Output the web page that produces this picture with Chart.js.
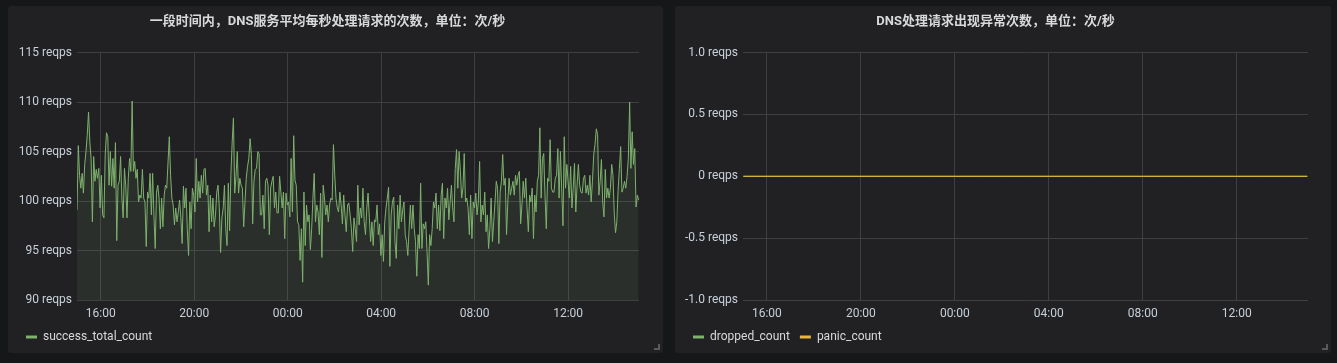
<!DOCTYPE html>
<html>
<head>
<meta charset="utf-8">
<script src="https://cdn.jsdelivr.net/npm/chart.js@4.4.1/dist/chart.umd.min.js"></script>
<style>
body { margin: 0; background: #161719; width: 1337px; height: 363px; overflow: hidden; }
.panel { position: absolute; top: 6px; height: 347px; background: #212124; border-radius: 3px; }
#p1 { left: 8px; width: 655px; }
#p2 { left: 675px; width: 656px; }
canvas { display: block; }
.corner { position: absolute; right: 3px; bottom: 3px; width: 4px; height: 4px;
          border-right: 2px solid #5a5a5e; border-bottom: 2px solid #5a5a5e; }
</style>
</head>
<body>
<div class="panel" id="p1"><canvas id="successChart" width="655" height="347"></canvas><div class="corner"></div></div>
<div class="panel" id="p2"><canvas id="errorChart" width="656" height="347"></canvas><div class="corner"></div></div>
<script>
// Time axis (minutes from 00:00 of the first day)
const rangeStart = 899;   // 14:59
const rangeEnd = 2342;    // 15:02 next day
const tickMinutes = [960, 1200, 1440, 1680, 1920, 2160];
const tickLabels = ['16:00', '20:00', '00:00', '04:00', '08:00', '12:00'];

// success_total_count, reqps, read left to right
const successTotalCount = [
    99.1, 105.6, 102.6, 101.3, 102.8, 100.8, 103.7, 105, 106.7, 109,
    106, 104.3, 97.9, 104.5, 102, 103.2, 102.3, 103.3, 99.3, 102.6,
    98.6, 98.3, 104.7, 106.9, 106.5, 101.6, 105, 101.5, 104.3, 101.3,
    105.9, 96, 101.6, 102, 104.5, 100.3, 98.3, 103.3, 101.6, 98.3,
    102.3, 104.3, 103, 110.1, 103, 104, 102.3, 103.2, 99.9, 100.6,
    100.3, 103.2, 100.3, 99.9, 95.4, 100.9, 100.3, 102.8, 98.6, 102.8,
    98.6, 95.2, 100.9, 101.6, 100.3, 97.2, 100.3, 97.4, 100.6, 101.6,
    101.3, 104, 106.5, 102.6, 100.3, 99.6, 97.6, 99.3, 97.9, 98.9,
    100.1, 98.3, 95.7, 101.5, 99.3, 101.3, 97.2, 94.5, 99.9, 97.2,
    101.3, 100.6, 98.9, 104.3, 99.9, 102, 100.3, 102.6, 100.8, 103.2,
    103.3, 100.6, 101.6, 96.9, 100.6, 97.9, 100.3, 97.4, 98.6, 100.9,
    101.6, 99.3, 94.8, 98.3, 99.3, 101.6, 97.2, 95.5, 101.8, 97,
    102.6, 105.9,
    108.4, 100.8, 102.5, 105, 100.8, 102.3, 101.6, 101.3, 97.4, 99.9,
    102.3, 103.5, 104.3, 106.3, 104.7, 97.7, 102, 103.2, 103.3, 105,
    104.8, 98.6, 98.6, 100.6, 97.2, 102, 102.3, 101.6, 96.6, 101.3,
    102, 102.5, 99.3, 100.9, 98.8, 98.8, 102.5, 100.9, 99.3, 100.9,
    96.2, 100.8, 99.6, 99.9, 98.4, 104.3, 98.9, 106.6, 102.1, 101.6,
    97.9, 97.6, 94, 97.2, 91.8, 100.9, 95.5, 99.6, 97.9, 98.6,
    95.1, 97.2, 100.3, 102.8, 97.9, 99.6, 98.9, 96.6, 100.8, 94.3,
    101.6, 100.3, 98.6, 99.6, 97.9, 99.6, 100.3, 100.1, 105.7, 102.7,
    100.3, 99.3, 98.9, 100.9, 99.6, 97.7, 100.6, 98.6, 96.9, 99.6,
    99.8, 98.6, 97.2, 94.9, 98.3, 97.2, 95.9, 101.6, 97.6, 99.3,
    98.3, 101.3, 97.9, 96.6, 99.3, 100.8, 98.3, 95.9, 97.9, 95.5,
    98.1,
    97.9, 99.6, 96.6, 97.7, 94.5, 96.6, 93.9, 97.9, 99.3, 100.3,
    101.4, 93.4, 98.6, 99.9, 100.4, 95.9, 94.2, 99.6, 97.2, 100.6,
    97.9, 99.1, 99.9, 96.6, 95.9, 94.5, 97.2, 99.6, 97.2, 99.6,
    97.2, 95.9, 92.4, 96.6, 95.2, 101.8, 95.2, 97.7, 97.2, 97.9,
    94.9, 91.5, 96.6, 95.5, 97.2, 99.9, 99.3, 100.8, 97.2, 99.6,
    97, 100.6, 101.8, 96.2, 100.3, 99.3, 101.3, 98.1, 99.9, 101.6,
    99.3, 97.9, 103.3, 105.2, 101.3, 105, 103, 100.3, 101.3, 104.8,
    99.9, 100.3, 99.3, 96.6, 100.6, 96.2, 99.9, 99.3, 100.8, 98.6,
    99.9, 104, 97.9, 99.6, 98.6, 100.9, 96.9, 98.6, 95.2, 97.2,
    100.3, 95.9, 97.9, 99.9, 102, 101.3, 95.7, 100.9, 102, 104.7,
    101.6, 102.3, 96.6, 99.9, 102.3, 100.6, 101.3, 102, 100.6, 102.6,
    101.6, 102.6, 103, 97.7, 99.6,
    102, 100.3, 102.3, 99.3, 96.9, 100.6, 99.9, 101.3, 96.2, 100.6,
    98.9, 102, 102.6, 107.4, 100.3, 104.3, 104.8, 100.6, 97.2, 102.3,
    102, 106.2, 101.3, 100.9, 100.9, 102.3, 102.6, 105.3, 100.3, 105,
    101.3, 97.5, 106.5, 101.3, 103.7, 102, 100.3, 103.5, 99.3, 101.3,
    103.8, 98.9, 101.6, 103.7, 101.6, 100.9, 100.8, 102.3, 102.6, 100.8,
    101.6, 100.6, 102.6, 99.9, 102, 104.7, 105.7, 107.3, 106.7, 100.6,
    102, 104.2, 99.9, 98.4, 103.2, 100.3, 101.3, 100.3, 101.3, 103.7,
    102.6, 98.8, 96.8, 97.9, 101.1, 103.3, 105.5, 100.9, 101.3, 102,
    101.3, 102.5, 104.3, 110, 103.3, 107, 103.7, 105.3, 99.4, 100.6, 100.1
];
const firstSample = 899;
const lastSample = 2341;

// error counters, hourly, all zero
const errorTimes = [900, 960, 1020, 1080, 1140, 1200, 1260, 1320, 1380, 1440, 1500, 1560, 1620,
                    1680, 1740, 1800, 1860, 1920, 1980, 2040, 2100, 2160, 2220, 2280, 2340];
const droppedCount = [0, 0, 0, 0, 0, 0, 0, 0, 0, 0, 0, 0, 0, 0, 0, 0, 0, 0, 0, 0, 0, 0, 0, 0, 0];
const panicCount = [0, 0, 0, 0, 0, 0, 0, 0, 0, 0, 0, 0, 0, 0, 0, 0, 0, 0, 0, 0, 0, 0, 0, 0, 0];

const green = '#7eb26d';
const yellow = '#eab839';
const gridColor = '#3f3f43';

Chart.defaults.font.family = "Roboto, 'Noto Sans CJK SC', sans-serif";
Chart.defaults.font.size = 12;
Chart.defaults.color = '#c7d0d9';

const step = (lastSample - firstSample) / (successTotalCount.length - 1);
const successPoints = successTotalCount.map((v, i) => ({ x: firstSample + i * step, y: v }));

function timeAxis() {
    return {
        type: 'linear',
        min: rangeStart,
        max: rangeEnd,
        grid: { color: gridColor, drawTicks: false },
        border: { display: false },
        ticks: {
            padding: 7,
            maxRotation: 0,
            callback: v => tickLabels[tickMinutes.indexOf(v)]
        },
        afterBuildTicks: s => { s.ticks = tickMinutes.map(v => ({ value: v })); },
        afterFit: s => { s.height = 21; }
    };
}

function legendOptions() {
    return {
        position: 'bottom',
        align: 'start',
        labels: {
            boxWidth: 11,
            boxHeight: 3,
            padding: 10,
            color: '#d8d9da',
            generateLabels: chart => chart.data.datasets.map((d, i) => ({
                text: d.label,
                fillStyle: d.borderColor,
                strokeStyle: d.borderColor,
                lineWidth: 0,
                fontColor: '#d8d9da',
                datasetIndex: i
            }))
        }
    };
}

function titleOptions(text) {
    return {
        display: true,
        text: text,
        color: '#d8d9da',
        font: { size: 13, weight: 'bold' },
        padding: { top: 8, bottom: 23 }
    };
}

const successCtx = document.getElementById('successChart').getContext('2d');
const successChart = new Chart(successCtx, {
    type: 'line',
    data: {
        datasets: [{
            label: 'success_total_count',
            data: successPoints,
            borderColor: green,
            backgroundColor: 'rgba(126, 178, 109, 0.1)',
            borderWidth: 1,
            pointRadius: 0,
            tension: 0,
            fill: 'start'
        }]
    },
    options: {
        responsive: false,
        animation: false,
        layout: { padding: { left: 8, right: 24, top: 0, bottom: 0 } },
        plugins: {
            title: titleOptions('一段时间内，DNS服务平均每秒处理请求的次数，单位：次/秒'),
            legend: legendOptions(),
            tooltip: { enabled: false }
        },
        scales: {
            x: timeAxis(),
            y: {
                min: 90,
                max: 115,
                grid: { color: gridColor, drawTicks: false },
                border: { display: false },
                ticks: { stepSize: 5, padding: 5, callback: v => v + ' reqps' },
                afterFit: s => { s.width = 61; }
            }
        }
    }
});

const errorCtx = document.getElementById('errorChart').getContext('2d');
const errorChart = new Chart(errorCtx, {
    type: 'line',
    data: {
        datasets: [{
            label: 'dropped_count',
            data: errorTimes.map((t, i) => ({ x: t, y: droppedCount[i] })),
            borderColor: green,
            borderWidth: 1,
            pointRadius: 0,
            fill: false,
            order: 2
        }, {
            label: 'panic_count',
            data: errorTimes.map((t, i) => ({ x: t, y: panicCount[i] })),
            borderColor: yellow,
            borderWidth: 1,
            pointRadius: 0,
            fill: false,
            order: 1
        }]
    },
    options: {
        responsive: false,
        animation: false,
        layout: { padding: { left: 8, right: 23, top: 0, bottom: 0 } },
        plugins: {
            title: titleOptions('DNS处理请求出现异常次数，单位：次/秒'),
            legend: legendOptions(),
            tooltip: { enabled: false }
        },
        scales: {
            x: timeAxis(),
            y: {
                min: -1,
                max: 1,
                grid: { color: gridColor, drawTicks: false },
                border: { display: false },
                ticks: {
                    stepSize: 0.5,
                    padding: 5,
                    callback: v => (v === 0 ? '0' : v.toFixed(1)) + ' reqps'
                },
                afterFit: s => { s.width = 60; }
            }
        }
    }
});
</script>
</body>
</html>
